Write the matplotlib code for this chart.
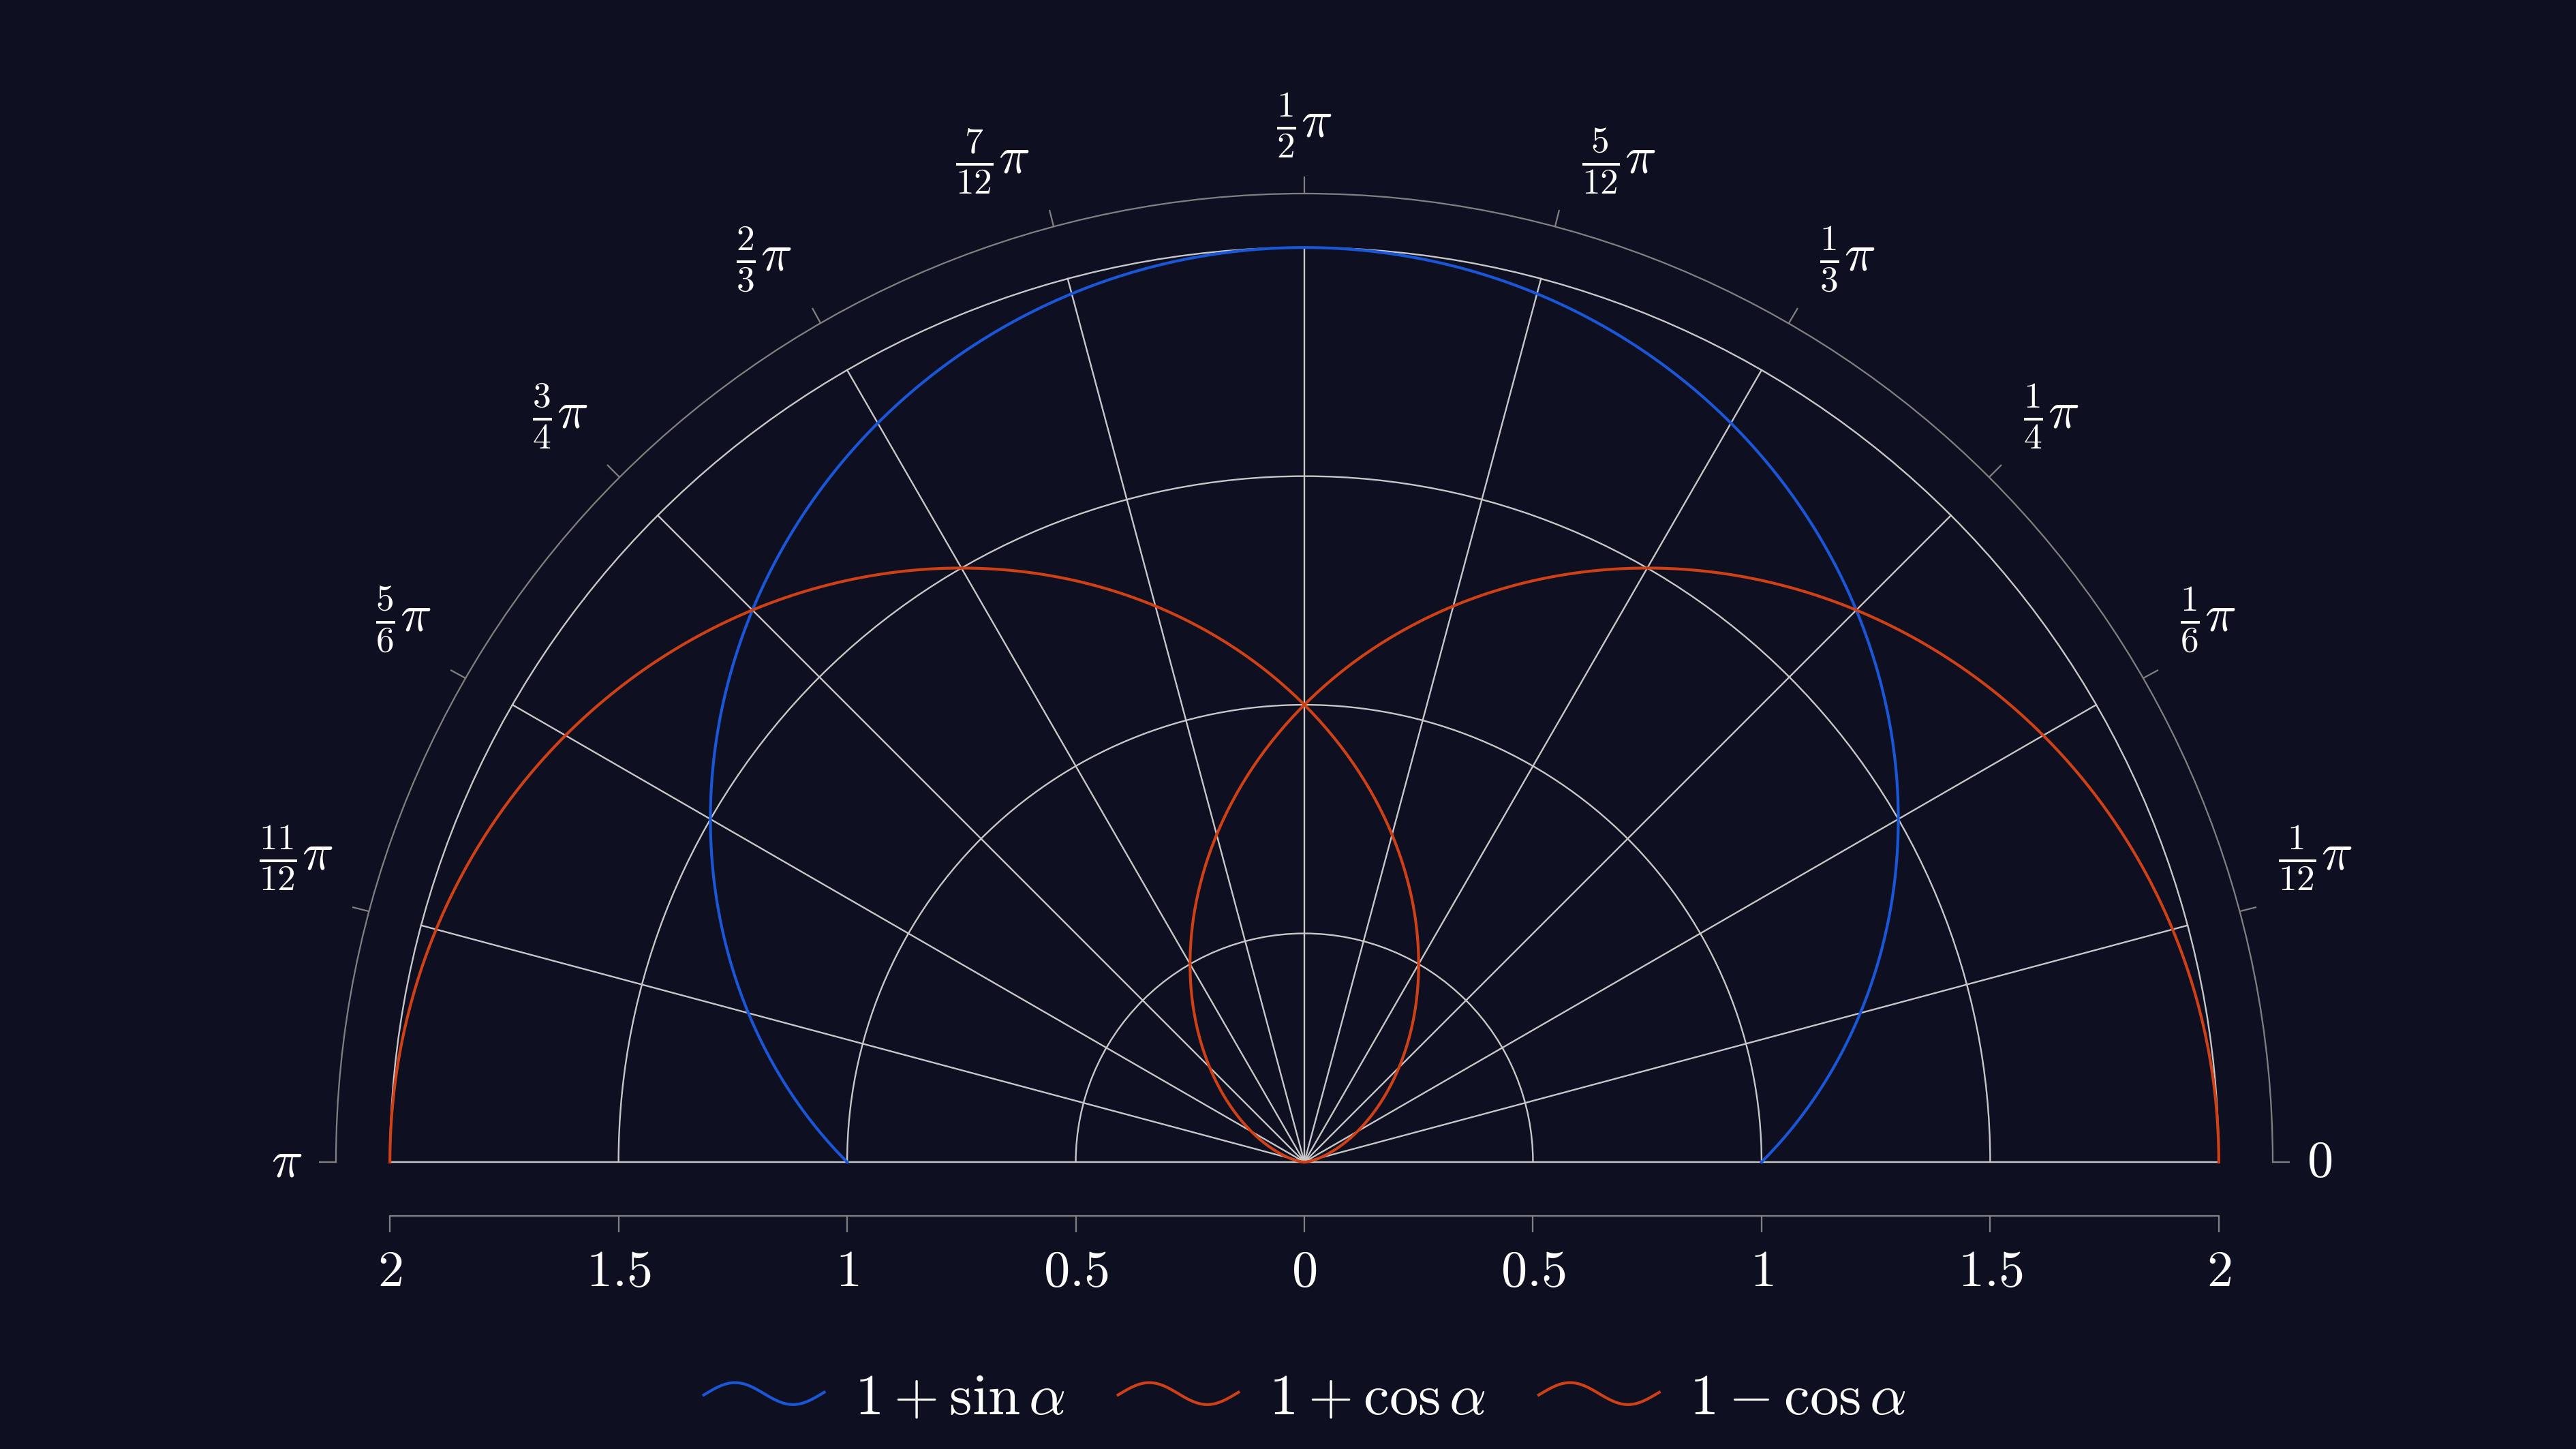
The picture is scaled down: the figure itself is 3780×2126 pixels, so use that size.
import numpy as np
import matplotlib

matplotlib.use("Agg")
import matplotlib.pyplot as plt
from matplotlib.legend_handler import HandlerBase
from matplotlib.lines import Line2D
from matplotlib.transforms import ScaledTranslation

plt.rcParams["mathtext.fontset"] = "cm"

BG = "#0e1021"
FG = "#ffffff"
GRID = "#c8c8c8"
AXIS = "#808080"
BLUE = "#1a56d8"
RED = "#d04016"

# curves (as given in the legend)
alpha = np.linspace(0, np.pi, 361)
series_labels = [r"$1+\sin\alpha$", r"$1+\cos\alpha$", r"$1-\cos\alpha$"]
series_r = [1 + np.sin(alpha), 1 + np.cos(alpha), 1 - np.cos(alpha)]
series_colors = [BLUE, RED, RED]

# angular axis
theta_ticks = np.arange(13) * np.pi / 12
theta_labels = [
    r"$0$", r"$\frac{1}{12}\pi$", r"$\frac{1}{6}\pi$", r"$\frac{1}{4}\pi$",
    r"$\frac{1}{3}\pi$", r"$\frac{5}{12}\pi$", r"$\frac{1}{2}\pi$",
    r"$\frac{7}{12}\pi$", r"$\frac{2}{3}\pi$", r"$\frac{3}{4}\pi$",
    r"$\frac{5}{6}\pi$", r"$\frac{11}{12}\pi$", r"$\pi$",
]
r_grid = [0.5, 1.0, 1.5, 2.0]
R_GRID_MAX = 2.0
R_MAX = 2.118

# bottom radial scale
x_ticks = [-2, -1.5, -1, -0.5, 0, 0.5, 1, 1.5, 2]
x_labels = ["$2$", "$1.5$", "$1$", "$0.5$", "$0$", "$0.5$", "$1$", "$1.5$", "$2$"]

W, H, DPI = 3780, 2126, 250
CX, CY, RPX = 1914, 1705, 1421  # centre (px from top-left) and outer radius
TICK_LEN = 7.2  # pt
FS = 22
LW_GRID = 0.68
LW_AXIS = 0.65
LW_CURVE = 1.2


class SineHandler(HandlerBase):
    def create_artists(self, legend, orig, xdescent, ydescent, width, height,
                       fontsize, trans):
        u = np.linspace(0, 1, 80)
        xs = -xdescent + u * width
        ys = -ydescent + height / 2 + 0.27 * height * np.sin(2 * np.pi * (u * 1.06 - 0.03))
        line = Line2D(xs, ys, color=orig.get_color(), lw=orig.get_linewidth(),
                      solid_capstyle="butt")
        line.set_transform(trans)
        return [line]


def label_anchor(th):
    """alignment and extra offset (pt) past the tick end, pgfplots-like."""
    deg = round(np.degrees(th))
    if deg == 0:
        return "left", "center", (7.2, 0)
    if deg == 180:
        return "right", "center", (-7.2, 0)
    if deg == 90:
        return "center", "bottom", (0, 7.2)
    if deg < 90:
        return "left", "bottom", (9.4, 6.2)
    return "right", "bottom", (-8.4, 6.2)


fig = plt.figure(figsize=(W / DPI, H / DPI), dpi=DPI, facecolor=BG)
# square box; the half-disk sits in its vertical middle
side = 2 * RPX
box_top = CY - RPX / 2 - RPX
ax = fig.add_axes([(CX - RPX) / W, (H - box_top - side) / H, side / W, side / H],
                  projection="polar")
ax.set_facecolor(BG)
ax.set_thetamin(0)
ax.set_thetamax(180)
ax.set_rlim(0, R_MAX)

# grid: circles via radial ticks, spokes drawn up to r = 2
ax.set_yticks(r_grid)
ax.set_yticklabels([])
ax.tick_params(axis="y", length=0)
ax.yaxis.grid(True, color=GRID, lw=LW_GRID)
ax.xaxis.grid(False)
for th in theta_ticks:
    ax.plot([th, th], [0, R_GRID_MAX], color=GRID, lw=LW_GRID, zorder=1, clip_on=False)

ax.set_xticks(theta_ticks)
ax.set_xticklabels([])
ax.tick_params(axis="x", bottom=False, top=True, direction="out",
               length=TICK_LEN, width=LW_AXIS, color=AXIS)
for name, sp in ax.spines.items():
    if name == "polar":
        sp.set_color(AXIS)
        sp.set_linewidth(LW_AXIS)
    else:
        sp.set_color("none")
        sp.set_linewidth(0)

handles = []
for lab, r, col in zip(series_labels, series_r, series_colors):
    (h,) = ax.plot(alpha, r, color=col, lw=LW_CURVE, label=lab, zorder=3, clip_on=False)
    handles.append(h)

# angular labels placed just past the tick ends
for th, lab in zip(theta_ticks, theta_labels):
    ha, va, (ox, oy) = label_anchor(th)
    dx = (TICK_LEN * np.cos(th) + ox) / 72
    dy = (TICK_LEN * np.sin(th) + oy) / 72
    ax.text(th, R_MAX, lab, ha=ha, va=va, color=FG, fontsize=FS,
            transform=ax.transData + ScaledTranslation(dx, dy, fig.dpi_scale_trans))

fig.canvas.draw()

# linear radius scale underneath
pos = ax.get_position()
axb = fig.add_axes([pos.x0, (H - 1784) / H, pos.width, 0.0001])
axb.set_facecolor("none")
axb.set_xlim(-R_MAX, R_MAX)
axb.set_yticks([])
for name in ("top", "left", "right"):
    axb.spines[name].set_visible(False)
axb.spines["bottom"].set_bounds(-2, 2)
axb.spines["bottom"].set_color(AXIS)
axb.spines["bottom"].set_linewidth(LW_AXIS)
axb.set_xticks(x_ticks)
axb.set_xticklabels(x_labels, fontsize=FS, color=FG)
axb.tick_params(axis="x", direction="out", length=7.0, width=LW_AXIS, color=AXIS, pad=6)

fig.legend(handles=handles, labels=series_labels, loc="center",
           bbox_to_anchor=(CX / W, 75 / H), ncol=3, frameon=False,
           fontsize=24.5, labelcolor=FG, handlelength=2.12, handletextpad=0.5,
           columnspacing=0.9, handler_map={Line2D: SineHandler()})

fig.savefig("out.png", dpi=DPI, facecolor=BG)
